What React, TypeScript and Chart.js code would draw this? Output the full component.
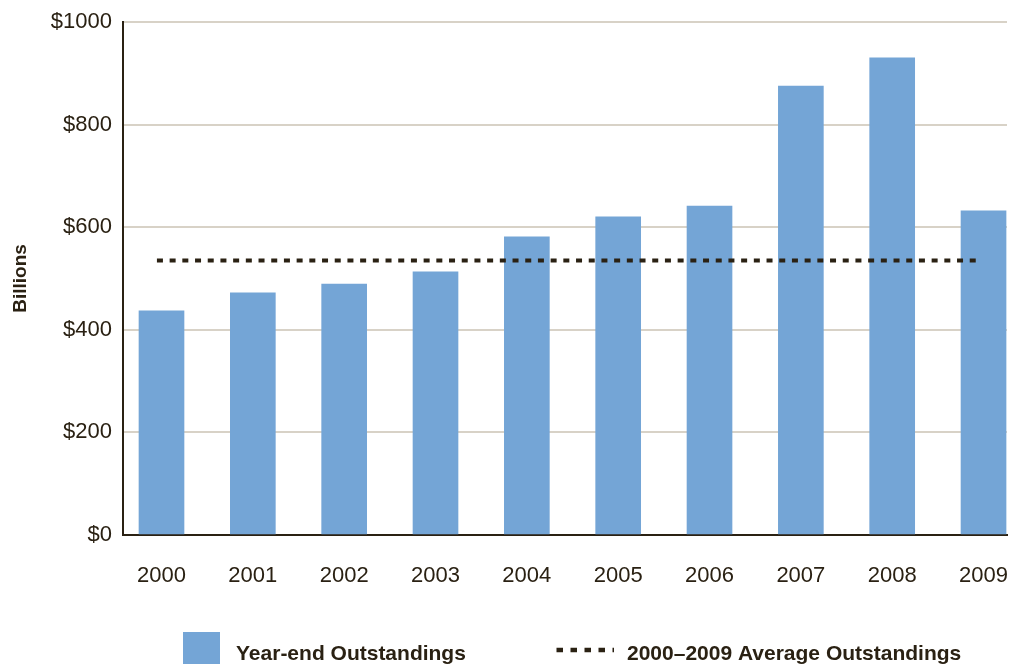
import React, { useEffect, useRef } from "react";
import { Chart, registerables } from "chart.js";

Chart.register(...registerables);

const years = ["2000", "2001", "2002", "2003", "2004", "2005", "2006", "2007", "2008", "2009"];
const outstandings = [437, 472, 489, 513, 581, 620, 641, 875, 930, 632];
const averageOutstanding = 535;
const averageSpan = [-0.05, 8.98];
const yTicks = [0, 200, 400, 600, 800, 1000];
const legendLabels = ["Year-end Outstandings", "2000\u20132009 Average Outstandings"];

const FONT = "'Liberation Sans', Arial, sans-serif";
const TEXT = "#2a2113";
const BLUE = "#74a5d6";
const GRID = "#d8d2c7";

const legendPlugin = {
  id: "customLegend",
  afterDraw(chart: any) {
    const ctx = chart.ctx as CanvasRenderingContext2D;
    ctx.save();
    ctx.fillStyle = BLUE;
    ctx.fillRect(183, 632, 37, 37);
    ctx.font = `bold 21px ${FONT}`;
    ctx.fillStyle = TEXT;
    ctx.textBaseline = "alphabetic";
    ctx.textAlign = "left";
    ctx.fillText(legendLabels[0], 236, 660);
    ctx.strokeStyle = TEXT;
    ctx.lineWidth = 4.5;
    ctx.setLineDash([6.5, 7.5]);
    ctx.beginPath();
    ctx.moveTo(556.5, 650);
    ctx.lineTo(614, 650);
    ctx.stroke();
    ctx.setLineDash([]);
    ctx.fillText(legendLabels[1], 627, 660);
    ctx.restore();
  },
};

export default function App() {
  const ref = useRef<HTMLCanvasElement>(null);
  useEffect(() => {
    document.body.style.margin = "0";
    const canvas = ref.current!;
    const chart = new Chart(canvas, {
      type: "bar",
      data: {
        datasets: [
          {
            type: "line",
            label: legendLabels[1],
            data: averageSpan.map((x) => ({ x, y: averageOutstanding })),
            borderColor: TEXT,
            borderWidth: 4,
            borderDash: [6, 6.7],
            borderCapStyle: "butt",
            pointRadius: 0,
            fill: false,
            order: 0,
          } as any,
          {
            type: "bar",
            label: legendLabels[0],
            data: outstandings.map((y, i) => ({ x: i, y })),
            backgroundColor: BLUE,
            borderWidth: 0,
            barThickness: 45,
            order: 1,
          } as any,
        ],
      },
      options: {
        responsive: false,
        animation: false,
        layout: { padding: { top: 22, right: 2, bottom: 0, left: 0 } },
        plugins: { legend: { display: false }, tooltip: { enabled: false } },
        scales: {
          x: {
            type: "linear",
            offset: false,
            min: -0.4215,
            max: 9.257,
            afterBuildTicks: (s: any) => {
              s.ticks = years.map((_, i) => ({ value: i }));
            },
            afterFit: (s: any) => {
              s.height = 129;
              s.paddingLeft = 0;
              s.paddingRight = 0;
            },
            grid: { display: false, drawTicks: false },
            border: { display: true, color: TEXT, width: 2 },
            ticks: {
              autoSkip: false,
              maxRotation: 0,
              padding: 28,
              color: TEXT,
              font: { family: FONT, size: 22 },
              callback: (v: any) => years[Math.round(Number(v))] ?? "",
            },
          },
          y: {
            min: 0,
            max: 1000,
            afterBuildTicks: (s: any) => {
              s.ticks = yTicks.map((v) => ({ value: v }));
            },
            afterFit: (s: any) => {
              s.width = 123;
              s.paddingTop = 0;
              s.paddingBottom = 0;
            },
            grid: { color: GRID, lineWidth: 2, drawTicks: false },
            border: { display: true, color: TEXT, width: 2 },
            ticks: {
              padding: 11,
              color: TEXT,
              font: { family: FONT, size: 22 },
              callback: (v: any) => "$" + v,
            },
            title: {
              display: true,
              text: "Billions",
              color: TEXT,
              padding: { top: 9, bottom: 0 },
              font: { family: FONT, size: 19, weight: "bold" },
            },
          },
        },
      },
      plugins: [legendPlugin],
    });
    return () => chart.destroy();
  }, []);
  return <canvas ref={ref} width={1009} height={664} style={{ display: "block" }} />;
}
